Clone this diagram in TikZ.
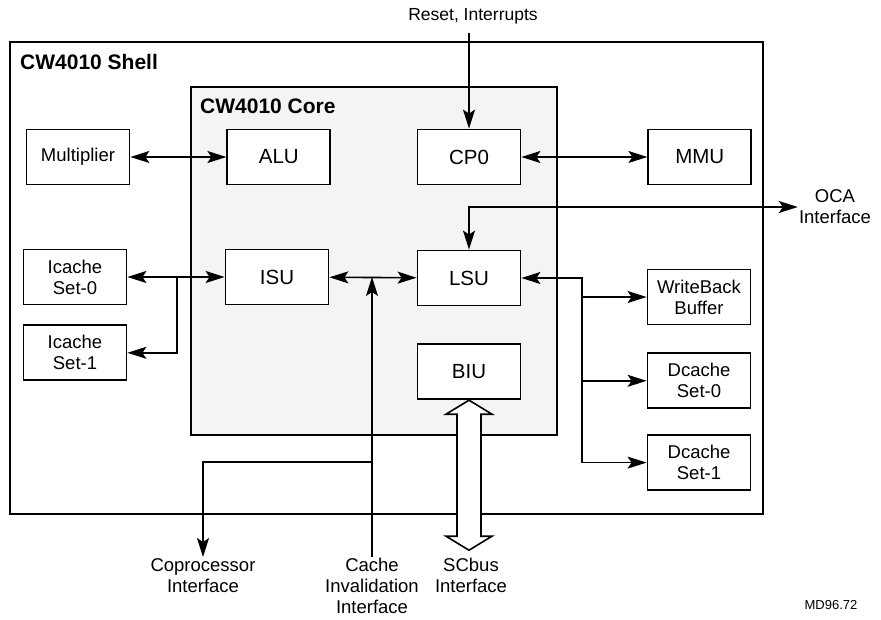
\documentclass[tikz,border=0pt]{standalone}
\usepackage{fontspec}
\setmainfont{Liberation Sans}
\usepackage{tikz}
\usetikzlibrary{arrows.meta,positioning,calc}
\usepackage{xcolor}
\definecolor{corefill}{RGB}{244,244,244}

\begin{document}
\begin{tikzpicture}[x=1pt, y=-1pt,
        font=\fontsize{18.5}{21}\selectfont,
        unit/.style={draw, line width=1.8pt, fill=white, minimum width=103pt, minimum height=55pt, align=center, inner sep=0pt},
        coreunit/.style={unit, font=\fontsize{20.5}{24}\selectfont},
        frame/.style={draw, line width=1.8pt},
        title/.style={anchor=west, font=\fontsize{21}{24}\selectfont\bfseries, inner sep=0pt},
        port/.style={align=center, inner sep=1pt},
        link/.style={line width=1.6pt, -{Stealth[length=19pt, width=12pt, inset=4pt]}},
        both/.style={line width=1.6pt, {Stealth[length=19pt, width=12pt, inset=4pt]}-{Stealth[length=19pt, width=12pt, inset=4pt]}}]
        \useasboundingbox (0,0) rectangle (881,619);
        \draw[frame] (10,42) rectangle (763,514);
        \draw[frame, fill=corefill] (191,87) rectangle (557,435);
        \node[title] (shell) at (20,62) {CW4010 Shell};
        \node[title] (core) at (200,106) {CW4010 Core};
        \node[unit] (mult) at (78,157) {Multiplier};
        \node[coreunit, right=96pt of mult] (alu) {ALU};
        \node[coreunit] (cp0) at (469,157) {CP0};
        \node[coreunit, right=126pt of cp0] (mmu) {MMU};
        \node[unit] (ic0) at (75,277) {Icache\\Set-0};
        \node[unit, below=19pt of ic0] (ic1) {Icache\\Set-1};
        \node[coreunit] (isu) at (277,277) {ISU};
        \node[coreunit] (lsu) at (469,278) {LSU};
        \node[coreunit, below=37pt of lsu] (biu) {BIU};
        \node[unit] (wb) at (699,297) {WriteBack\\Buffer};
        \node[unit, below=27pt of wb] (dc0) {Dcache\\Set-0};
        \node[unit, below=25pt of dc0] (dc1) {Dcache\\Set-1};
        \node[port, font=\fontsize{17.5}{21}\selectfont] (reset) at (473,16) {Reset, Interrupts};
        \node[port] (oca) at (835,207) {OCA\\Interface};
        \node[port, anchor=north] (copro) at (203,557) {Coprocessor\\Interface};
        \node[port, anchor=north] (cinv) at (372,557) {Cache\\Invalidation\\Interface};
        \node[port, anchor=north] (scbus) at (471,557) {SCbus\\Interface};
        \node[port, font=\fontsize{13}{15}\selectfont] (mdno) at (831,605) {MD96.72};
        \coordinate (rsttop) at (469,33);
        \coordinate (icj) at (177,277);
        \coordinate (cij) at (372,277);
        \coordinate (cpj) at (372,462);
        \coordinate (dcj) at (582,278);
        \draw[both] (mult)--(alu);
        \draw[both] (cp0)--(mmu);
        \draw[link] (rsttop)--(cp0);
        \draw[both] (lsu.north) |- (oca.west);
        \draw[both] (ic0)--(isu);
        \draw[link] (icj) |- (ic1.east);
        \draw[both] (isu)--(lsu);
        \draw[link] (cinv.north)--(cij);
        \draw[link] (cpj) -| (copro.north);
        \draw[both] (lsu.east)--(dcj) |- (dc1.west);
        \draw[link] (dcj |- wb.west)--(wb.west);
        \draw[link] (dcj |- dc0.west)--(dc0.west);
        \draw[line width=1.6pt, fill=white] (biu.south) -- ++(23,14) -- ++(-11,0) -- ++(0,122) -- ++(11,0)
          -- ++(-23,14) -- ++(-23,-14) -- ++(11,0) -- ++(0,-122) -- ++(-11,0) -- cycle;
      \end{tikzpicture}
\end{document}
